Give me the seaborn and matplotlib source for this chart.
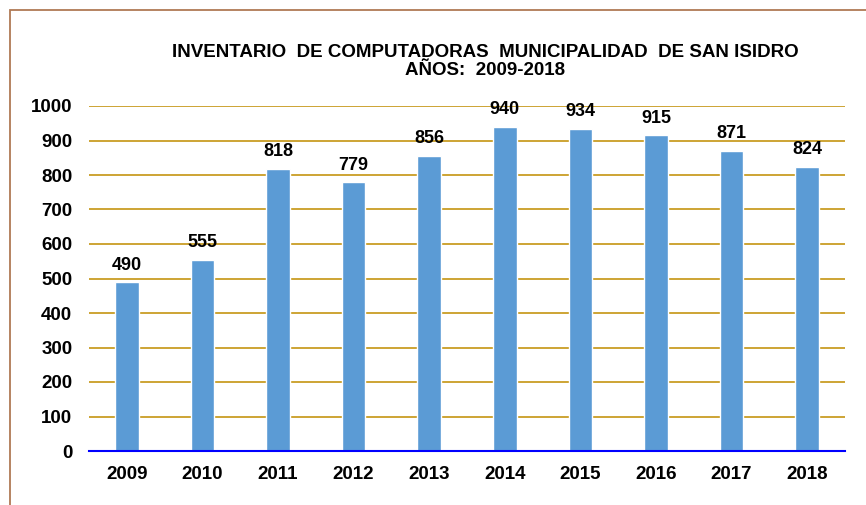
import matplotlib
matplotlib.use("Agg")
import matplotlib.pyplot as plt
import seaborn as sns
import pandas as pd
from matplotlib.patches import Rectangle

years = ["2009", "2010", "2011", "2012", "2013", "2014", "2015", "2016", "2017", "2018"]
values = [490, 555, 818, 779, 856, 940, 934, 915, 871, 824]
yticks = [0, 100, 200, 300, 400, 500, 600, 700, 800, 900, 1000]
title = "INVENTARIO  DE COMPUTADORAS  MUNICIPALIDAD  DE SAN ISIDRO\nAÑOS:  2009-2018"

sns.set_theme(style="white")
plt.rcParams['font.family'] = ['Liberation Sans', 'DejaVu Sans']

df = pd.DataFrame({"year": years, "value": values})

fig = plt.figure(figsize=(8.66, 5.05), dpi=100)
ax = fig.add_axes([89/866, 1-451/505, (845-89)/866, (451-106)/505])

sns.barplot(data=df, x="year", y="value", color="#5B9BD5", width=0.31,
            saturation=1, ax=ax, zorder=3)

ax.set_ylim(0, 1000)
ax.set_yticks(yticks)
ax.set_xlim(-0.5, len(years) - 0.5)
ax.yaxis.grid(True, color="#CDA434", linewidth=1.4, zorder=0)
ax.set_axisbelow(True)
for s in ["top", "right", "left"]:
    ax.spines[s].set_visible(False)
ax.spines["bottom"].set_color("#0000FF")
ax.spines["bottom"].set_linewidth(1.5)
ax.spines["bottom"].set_zorder(4)
ax.set_xlabel("")
ax.set_ylabel("")
ax.tick_params(axis="both", length=0, labelsize=13.5)
ax.tick_params(axis="x", pad=11)
ax.tick_params(axis="y", pad=12)
for lab in ax.get_xticklabels() + ax.get_yticklabels():
    lab.set_fontweight("bold")
    lab.set_color("black")

for c in ax.containers:
    ax.bar_label(c, labels=[str(v) for v in values], padding=6,
                 fontsize=13, fontweight="bold", color="black")

fig.text(485/866, 1-61.5/505, title, ha="center", va="center",
         fontsize=13.5, fontweight="bold", linespacing=1.15, color="black")

border = Rectangle((10/866, -0.05), 1.0, 1-10/505 + 0.05, transform=fig.transFigure,
                   fill=False, edgecolor="#B07A55", linewidth=1.3, clip_on=False)
fig.patches.append(border)

fig.savefig("out.png", dpi=100)
